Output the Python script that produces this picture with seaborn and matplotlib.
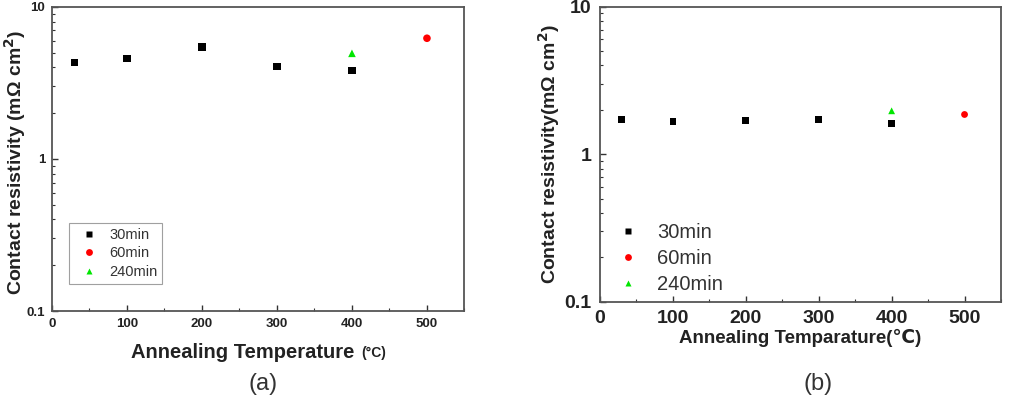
import numpy as np
import pandas as pd
import matplotlib
matplotlib.use("Agg")
import matplotlib.pyplot as plt
import seaborn as sns
from matplotlib.ticker import MultipleLocator, LogLocator, NullFormatter

sns.set_theme(style="white")
plt.rcParams['font.family'] = ['Liberation Sans', 'DejaVu Sans']

# Panel (a) values
a_30_temp = [30, 100, 200, 300, 400]
a_30_res = [4.3, 4.57, 5.43, 4.05, 3.81]
a_60_temp = [500]
a_60_res = [6.22]
a_240_temp = [400]
a_240_res = [4.95]

# Panel (b) values
b_30_temp = [30, 100, 200, 300, 400]
b_30_res = [1.73, 1.66, 1.70, 1.73, 1.62]
b_60_temp = [500]
b_60_res = [1.86]
b_240_temp = [400]
b_240_res = [1.97]

series = ["30min", "60min", "240min"]
palette = {"30min": "#000000", "60min": "#ff0000", "240min": "#00e600"}
markers = {"30min": "s", "60min": "o", "240min": "^"}


def make_df(t30, r30, t60, r60, t240, r240):
    return pd.DataFrame({
        "temp": t30 + t60 + t240,
        "res": r30 + r60 + r240,
        "time": ["30min"] * len(t30) + ["60min"] * len(t60) + ["240min"] * len(t240),
    })


df_a = make_df(a_30_temp, a_30_res, a_60_temp, a_60_res, a_240_temp, a_240_res)
df_b = make_df(b_30_temp, b_30_res, b_60_temp, b_60_res, b_240_temp, b_240_res)

fig = plt.figure(figsize=(10.11, 3.96), dpi=100)
ax_a = fig.add_axes([0.0514, 0.2146, 0.408, 0.768])
ax_b = fig.add_axes([0.5935, 0.238, 0.3966, 0.745])


def style_axes(ax, tick_size, label_pad):
    ax.set_yscale("log")
    ax.set_xlim(0, 550)
    ax.set_ylim(0.1, 10)
    ax.xaxis.set_major_locator(MultipleLocator(100))
    ax.xaxis.set_minor_locator(MultipleLocator(50))
    ax.yaxis.set_minor_locator(LogLocator(base=10, subs=np.arange(2, 10), numticks=20))
    ax.yaxis.set_minor_formatter(NullFormatter())
    ax.set_yticks([0.1, 1, 10])
    ax.set_yticklabels(["0.1", "1", "10"])
    ax.tick_params(axis="both", which="both", direction="in", top=False, right=False,
                   left=True, bottom=True, colors="#333333")
    ax.tick_params(which="major", length=4, width=1, labelsize=tick_size, pad=label_pad)
    ax.tick_params(which="minor", length=2.5, width=0.8)
    for lbl in ax.get_xticklabels() + ax.get_yticklabels():
        lbl.set_fontweight("bold")
        lbl.set_color("#222222")
    for sp in ax.spines.values():
        sp.set_color("#555555")
        sp.set_linewidth(1.3)


# Panel (a)
sns.scatterplot(data=df_a, x="temp", y="res", hue="time", style="time",
                hue_order=series, style_order=series, palette=palette, markers=markers,
                s=30, edgecolor="none", ax=ax_a)
style_axes(ax_a, 9.5, 5)
ax_a.set_xlabel("")
ax_a.set_ylabel("Contact resistivity (mΩ cm$^{\\mathbf{2}}$)", fontsize=14, fontweight="bold",
                color="#222222")
ax_a.yaxis.set_label_coords(-0.058, 0.49)
fig.text(360 / 1011, 1 - 353 / 396, "Annealing Temperature ", fontsize=14.5, fontweight="bold",
         color="#222222", ha="right", va="center")
fig.text(361 / 1011, 1 - 353 / 396, "(°C)", fontsize=10, fontweight="bold",
         color="#222222", ha="left", va="center")
leg_a = ax_a.legend(loc="lower left", bbox_to_anchor=(0.041, 0.089), borderaxespad=0,
                    fontsize=10.5, frameon=True, fancybox=False, edgecolor="#888888",
                    handlelength=2.0, handletextpad=0.4, borderpad=0.35,
                    labelspacing=0.3, markerscale=0.9)
leg_a.get_frame().set_linewidth(0.8)
for t in leg_a.get_texts():
    t.set_color("#333333")

# Panel (b)
sns.scatterplot(data=df_b, x="temp", y="res", hue="time", style="time",
                hue_order=series, style_order=series, palette=palette, markers=markers,
                s=24, edgecolor="none", ax=ax_b)
style_axes(ax_b, 14, 6)
ax_b.set_xlabel("Annealing Temparature(℃)", fontsize=13.5, fontweight="bold", color="#222222", labelpad=1)
ax_b.set_ylabel("Contact resistivity(mΩ cm$^{\\mathbf{2}}$)", fontsize=14, fontweight="bold",
                color="#222222", labelpad=2)
leg_b = ax_b.legend(loc="lower left", bbox_to_anchor=(0.0, 0.0), borderaxespad=0,
                    fontsize=14.5, frameon=False, handlelength=2.0,
                    handletextpad=0.45, labelspacing=0.35, markerscale=1.0)
for t in leg_b.get_texts():
    t.set_color("#333333")

fig.text(263 / 1011, 1 - 384 / 396, "(a)", fontsize=17, ha="center", va="center", color="#333333")
fig.text(818 / 1011, 1 - 384 / 396, "(b)", fontsize=17, ha="center", va="center", color="#333333")

fig.savefig("out.png", dpi=100, facecolor="white")
